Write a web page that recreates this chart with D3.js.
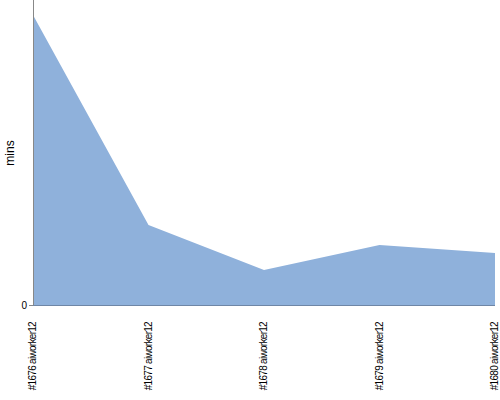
<!DOCTYPE html>
<html><head><meta charset="utf-8">
<script src="https://cdn.jsdelivr.net/npm/d3@7"></script>
<style>body{margin:0;background:#fff}svg{display:block}</style>
</head><body>
<svg id="c" width="500" height="400"></svg>
<script>
const categories = ["#1676 aiworker12","#1677 aiworker12","#1678 aiworker12","#1679 aiworker12","#1680 aiworker12"];
const values = [29.0, 8.0, 3.5, 6.0, 5.2];
const yTicks = [0];
const yMax = 30.5;

(function(){
const svg = d3.select("#c");
const mLeft = 33, mRight = 495, mTop = 0, mBottom = 305;
const x = d3.scalePoint().domain(categories).range([mLeft, mRight]);
const y = d3.scaleLinear().domain([0, yMax]).range([mBottom, mTop]);

const area = d3.area().x(d => x(d.c)).y0(y(0)).y1(d => y(d.v));
const data = categories.map((c, i) => ({c, v: values[i]}));
svg.append("path").datum(data).attr("d", area).attr("fill", "#8fb1db");

// y axis
svg.append("line").attr("x1", mLeft + 0.5).attr("x2", mLeft + 0.5).attr("y1", mTop).attr("y2", mBottom)
  .attr("stroke", "#888");
svg.selectAll(".yt").data(yTicks).enter().append("line")
  .attr("x1", mLeft - 4).attr("x2", mLeft).attr("y1", d => y(d) + 0.5).attr("y2", d => y(d) + 0.5)
  .attr("stroke", "#888");
svg.selectAll(".yl").data(yTicks).enter().append("text")
  .attr("x", mLeft - 6).attr("y", d => y(d)).attr("dy", "0.35em")
  .attr("text-anchor", "end").attr("font-family", "Liberation Sans, Arial, sans-serif")
  .attr("font-size", 10).attr("fill", "#000").text(d => d);

// x axis
svg.append("line").attr("x1", mLeft).attr("x2", mRight).attr("y1", mBottom + 0.5).attr("y2", mBottom + 0.5)
  .attr("stroke", "#6f86a6");
svg.selectAll(".xl").data(categories).enter().append("text")
  .attr("transform", d => `translate(${x(d) + 3},322) rotate(-90)`)
  .attr("text-anchor", "end").attr("font-family", "Liberation Sans, Arial, sans-serif")
  .attr("font-size", 10).attr("letter-spacing", "-0.7").attr("fill", "#000").text(d => d);

svg.append("text").attr("transform", "translate(14,153) rotate(-90)")
  .attr("text-anchor", "middle").attr("font-family", "Liberation Sans, Arial, sans-serif")
  .attr("font-size", 12).attr("fill", "#000").text("mins");
})();
</script>
</body></html>
